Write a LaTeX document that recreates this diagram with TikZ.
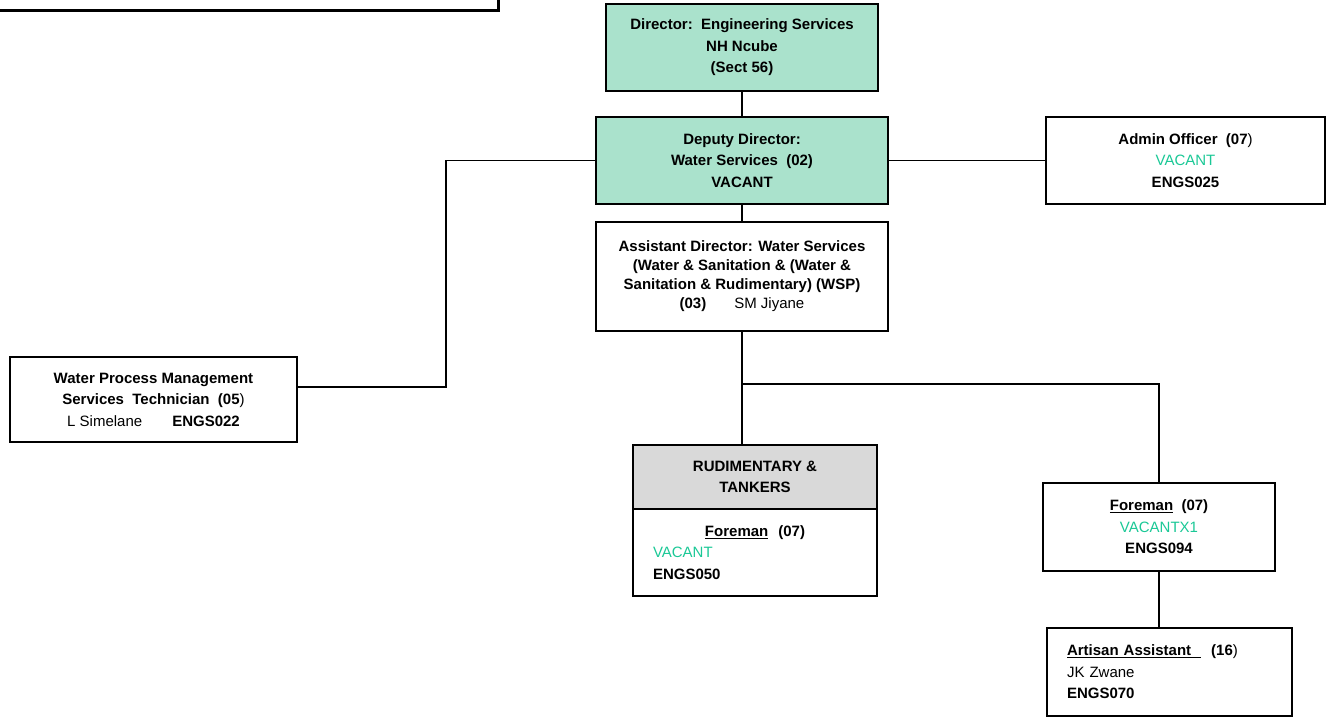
\documentclass[tikz,border=0pt]{standalone}
\usepackage{fontspec}
\setmainfont{Liberation Sans}
\usetikzlibrary{calc}
\definecolor{postgreen}{RGB}{170,226,204}
\definecolor{vacantcol}{RGB}{26,200,150}
\definecolor{unitgrey}{RGB}{217,217,217}
\newcommand{\vac}[1]{{\mdseries\color{vacantcol}#1}}
\newcommand{\reg}[1]{{\mdseries #1}}

\begin{document}
\begin{tikzpicture}[x=1pt,y=-1pt,
    post/.style={draw,line width=1.9pt,inner sep=0pt,align=center,
      font=\fontsize{15}{21.5}\selectfont\bfseries},
    link/.style={line width=1.8pt}]
      \useasboundingbox (0,0) rectangle (1327,721);
      % corner of the frame above
      \draw[line width=3.5pt] (0,10.3) -- (498.5,10.3) -- (498.5,0);
      % posts
      \node[post,fill=postgreen,minimum width=272,minimum height=87] (dir) at (742,47.5)
        {Director:\ \ Engineering Services\\NH Ncube\\(Sect 56)};
      \node[post,fill=postgreen,minimum width=292,minimum height=87] (dep) at (742,160.5)
        {Deputy Director:\\Water Services\ \ (02)\\VACANT};
      \node[post,minimum width=292,minimum height=109,
        font=\fontsize{15}{19}\selectfont\bfseries] (asst) at (742,276.5)
        {Assistant Director: Water Services\\(Water \& Sanitation \& (Water \&\\
         Sanitation \& Rudimentary) (WSP)\\(03)\hspace{28pt}\reg{SM Jiyane}};
      \node[post,minimum width=279,minimum height=87] (admin) at (1185.5,160.5)
        {Admin Officer\ \ (07\reg{)}\\\vac{VACANT}\\ENGS025};
      \node[post,minimum width=287,minimum height=85] (wpm) at (153.5,399.5)
        {Water Process Management\\Services\ \ Technician\ \ (05\reg{)}\\
         \reg{L Simelane}\hspace{30pt}ENGS022};
      \node[post,fill=unitgrey,minimum width=244,minimum height=64] (rudhead) at (755,477)
        {RUDIMENTARY \&\\TANKERS};
      \node[post,minimum width=244,minimum height=87,text width=204,align=left] (rudbody) at (755,552.5)
        {\makebox[204pt]{\underline{Foreman}\ \ (07)}\\\vac{VACANT}\\ENGS050};
      \node[post,minimum width=232,minimum height=88] (fore) at (1159,527)
        {\underline{Foreman}\ \ (07)\\\vac{VACANTX1}\\ENGS094};
      \node[post,minimum width=245,minimum height=88,text width=205,align=left] (art) at (1169.5,672)
        {\underline{Artisan Assistant\ \ }\ \ (16\reg{)}\\\reg{JK Zwane}\\ENGS070};
      % links
      \coordinate (wpmjoin) at (446,387);
      \coordinate (split) at (742,384);
      \draw[link] (dir.south) -- (dep.north);
      \draw[link] (dep.south) -- (asst.north);
      \draw[link] (dep) -- (admin);
      \draw[link] (dep.west) -| (wpmjoin) -- (wpmjoin -| wpm.east);
      \draw[link] (asst.south) -- (asst.south |- rudhead.north);
      \draw[link] (split) -| (fore.north);
      \draw[link] (fore.south) -- (fore.south |- art.north);
\end{tikzpicture}
\end{document}
